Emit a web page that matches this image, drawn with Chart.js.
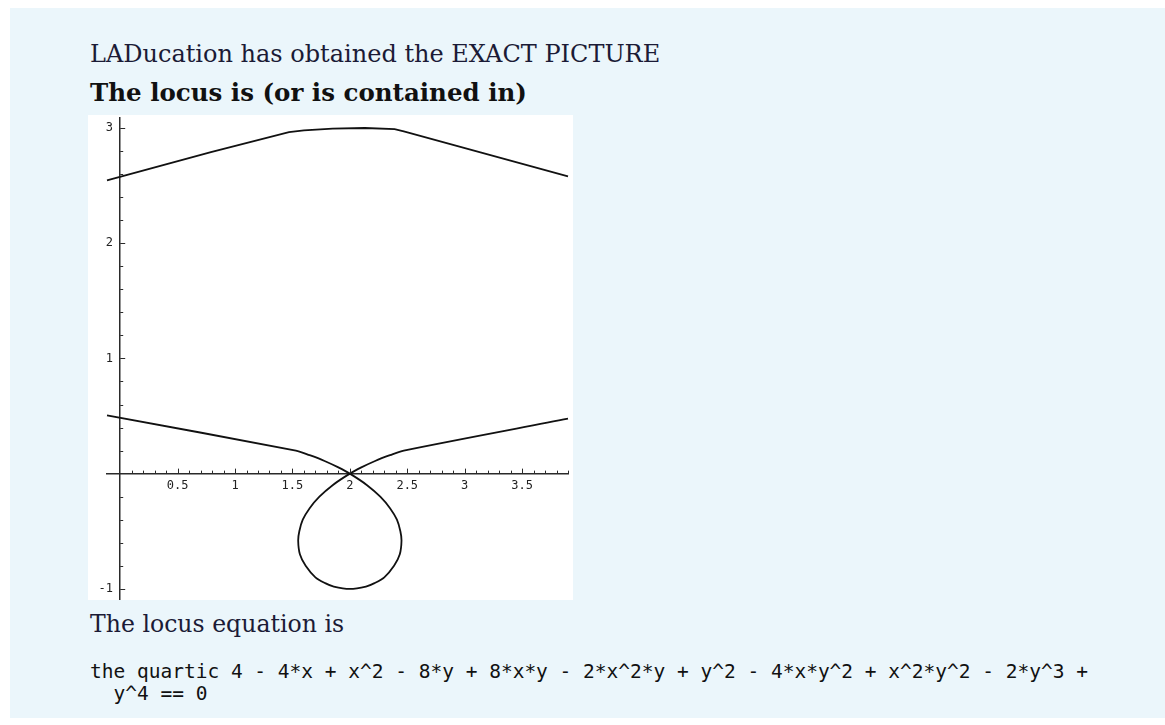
<!DOCTYPE html>
<html>
<head>
<meta charset="utf-8">
<script src="https://cdn.jsdelivr.net/npm/chart.js@4.4.0/dist/chart.umd.min.js"></script>
<style>
  html, body { margin: 0; padding: 0; background: #fff; }
  body { width: 1165px; height: 725px; position: relative; overflow: hidden; }
  .panel { position: absolute; left: 10px; top: 8px; width: 1155px; height: 710px; background: #ebf6fb; }
  .line { position: absolute; left: 90px; white-space: pre; font-family: "DejaVu Serif", serif;
          font-size: 24px; line-height: 24px; color: #1b1b36; }
  .bold { font-weight: bold; font-size: 24.5px; color: #111; }
  .mono { position: absolute; left: 90px; margin: 0; white-space: pre; font-family: "DejaVu Sans Mono", monospace;
          font-size: 19.5px; line-height: 22px; color: #111; }
  .sheet { position: absolute; left: 88px; top: 115px; width: 485px; height: 485px; background: #fff; }
  #plot { position: absolute; left: 88px; top: 108px; width: 485px; height: 502px; }
</style>
</head>
<body>
<div class="panel"></div>
<div class="line" style="top:42px">LADucation has obtained the EXACT PICTURE</div>
<div class="line bold" style="top:81px">The locus is (or is contained in)</div>
<div class="sheet"></div>
<div id="plot"><canvas id="locus"></canvas></div>
<div class="line" style="top:612px; font-size:23.6px">The locus equation is</div>
<pre class="mono" style="top:661px">the quartic 4 - 4*x + x^2 - 8*y + 8*x*y - 2*x^2*y + y^2 - 4*x*y^2 + x^2*y^2 - 2*y^3 +
  y^4 == 0</pre>
<script>
// upper branch of the quartic (y between 1 and 3)
const upperX = [-0.115, 0.79, 1.47, 1.60, 1.85, 2.13, 2.39, 2.47, 3.90];
const upperY = [2.545, 2.79, 2.965, 2.98, 2.995, 3.0, 2.99, 2.97, 2.58];

// lower branch: left arm -> node at (2,0) -> loop -> node -> right arm
const lowerX = [-0.115, 1.53, 1.65, 1.78, 1.90, 2.0,
  2.15, 2.265, 2.35, 2.41, 2.44, 2.45, 2.435, 2.385, 2.30, 2.215, 2.14, 2.0,
  1.86, 1.785, 1.70, 1.615, 1.565, 1.55, 1.56, 1.59, 1.65, 1.735, 1.85, 2.0,
  2.10, 2.22, 2.35, 2.47, 3.90];
const lowerY = [0.506, 0.20, 0.16, 0.11, 0.054, 0.0,
  -0.1, -0.2, -0.3, -0.4, -0.5, -0.58, -0.7, -0.8, -0.9, -0.95, -0.98, -1.0,
  -0.98, -0.95, -0.9, -0.8, -0.7, -0.58, -0.5, -0.4, -0.3, -0.2, -0.1, 0.0,
  0.054, 0.11, 0.16, 0.20, 0.477];

const xTickLabels = ['0.5', '1', '1.5', '2', '2.5', '3', '3.5'];
const yTickLabels = ['-1', '1', '2', '3'];

const axisColor = '#2a2a2a';
const curveColor = '#111111';

function toPoints(xs, ys) {
  return xs.map((x, i) => ({ x: x, y: ys[i] }));
}

function labelFor(value, labels) {
  const hit = labels.find(l => Math.abs(Number(l) - value) < 1e-6);
  return hit === undefined ? '' : hit;
}

// minor ticks every 0.1 on x, every 0.2 on y
function xTicks(scale) {
  const t = [];
  for (let k = 1; k <= 39; k++) t.push({ value: k / 10 });
  scale.ticks = t;
}
function yTicks(scale) {
  const t = [];
  for (let k = -5; k <= 15; k++) if (k !== 0) t.push({ value: k / 5 });
  scale.ticks = t;
}

// Mathematica style tick marks: drawn into the plot, longer on labelled ticks
const tickMarks = {
  id: 'tickMarks',
  afterDraw(chart) {
    const { ctx, scales: { x, y } } = chart;
    const x0 = x.getPixelForValue(0);
    const y0 = y.getPixelForValue(0);
    ctx.save();
    ctx.strokeStyle = axisColor;
    ctx.lineWidth = 1;
    x.ticks.forEach(t => {
      const px = Math.round(x.getPixelForValue(t.value)) + 0.5;
      const len = labelFor(t.value, xTickLabels) ? 5 : 3;
      ctx.beginPath();
      ctx.moveTo(px, y0);
      ctx.lineTo(px, y0 - len);
      ctx.stroke();
    });
    y.ticks.forEach(t => {
      const py = Math.round(y.getPixelForValue(t.value)) + 0.5;
      const len = labelFor(t.value, yTickLabels) ? 5 : 3;
      ctx.beginPath();
      ctx.moveTo(x0, py);
      ctx.lineTo(x0 + len, py);
      ctx.stroke();
    });
    ctx.restore();
  }
};

const tickFont = { family: '"DejaVu Sans Mono", monospace', size: 12 };

const lineStyle = {
  showLine: true,
  borderColor: curveColor,
  borderWidth: 1.8,
  pointRadius: 0,
  clip: false
};

new Chart(document.getElementById('locus'), {
  type: 'scatter',
  data: {
    datasets: [
      Object.assign({ data: toPoints(upperX, upperY), tension: 0 }, lineStyle),
      Object.assign({ data: toPoints(lowerX, lowerY), tension: 0.3 }, lineStyle)
    ]
  },
  options: {
    responsive: true,
    maintainAspectRatio: false,
    animation: false,
    layout: { padding: { left: 19, right: 3, top: 1, bottom: 2 } },
    plugins: { legend: { display: false }, tooltip: { enabled: false } },
    scales: {
      x: {
        type: 'linear',
        min: -0.115,
        max: 3.90,
        position: { y: 0 },
        afterBuildTicks: xTicks,
        grid: { display: false, drawTicks: false },
        border: { display: true, color: axisColor, width: 1.5 },
        ticks: {
          autoSkip: false,
          maxRotation: 0,
          padding: 5,
          color: '#222',
          font: tickFont,
          callback: v => labelFor(v, xTickLabels)
        }
      },
      y: {
        type: 'linear',
        min: -1.095,
        max: 3.085,
        position: { x: 0 },
        afterBuildTicks: yTicks,
        grid: { display: false, drawTicks: false },
        border: { display: true, color: axisColor, width: 1.5 },
        ticks: {
          autoSkip: false,
          color: '#222',
          font: tickFont,
          // trailing space keeps the label clear of the axis line
          callback: v => { const s = labelFor(v, yTickLabels); return s ? s + ' ' : ''; }
        }
      }
    }
  },
  plugins: [tickMarks]
});
</script>
</body>
</html>
